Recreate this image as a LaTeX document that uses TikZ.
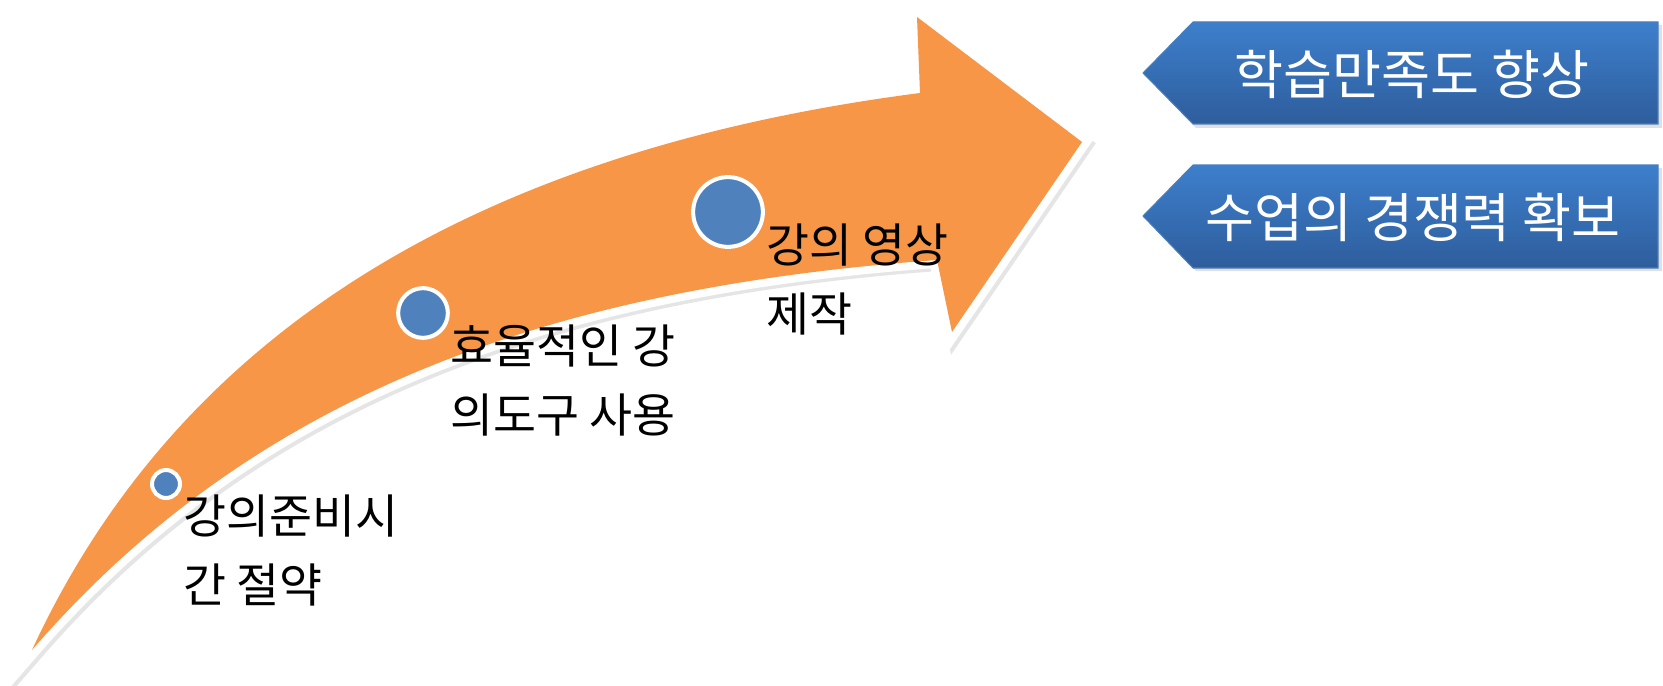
\documentclass[tikz,border=0pt]{standalone}
\usepackage{fontspec}
\newfontfamily\kor{Noto Sans CJK KR}
\usetikzlibrary{calc,positioning}
\definecolor{arroworange}{HTML}{F79646}
\definecolor{dotblue}{HTML}{4F81BD}
\definecolor{boxtop}{HTML}{3D7FCC}
\definecolor{boxbot}{HTML}{2E5D9C}
\definecolor{boxedge}{HTML}{4A7EBB}

\begin{document}
\begin{tikzpicture}[x=0.02cm, y=-0.02cm,
    dot/.style={circle, draw=white, line width=2.3pt, fill=dotblue, inner sep=0pt},
    lbl/.style={anchor=north west, inner sep=0pt, align=left, text=black,
        font=\kor\fontsize{26.6}{39.5}\selectfont},
    goalbox/.style={draw=boxedge, line width=0.6pt, top color=boxtop, bottom color=boxbot},
    goaltxt/.style={anchor=base, inner sep=0pt, text=white,
        font=\kor\fontsize{30.3}{34}\selectfont}]
    \useasboundingbox (0,0) rectangle (1663,686);

    %% Big curved arrow
    \def\bigarrow{(32,650) .. controls (180,330) and (480,150) .. (920,93)
        -- (917,17) -- (1082,142) -- (952,332) -- (937,260)
        .. controls (520,290) and (240,410) .. (32,650) -- cycle}
    \path[fill=black, draw=black, opacity=0.10, line width=9pt, line join=miter,
        shift={(3,3)}] \bigarrow;
    \path[fill=white, draw=white, line width=9pt, line join=miter] \bigarrow;
    \path[fill=arroworange] \bigarrow;

    %% Steps on the arrow
    \node[dot, minimum size=15.9pt] (d1) at (166,484) {};
    \node[dot, minimum size=28.3pt] (d2) at (423,313) {};
    \node[dot, minimum size=39.7pt] (d3) at (728,212) {};

    \node[lbl] (t1) at (183,494) {강의준비시\\간 절약};
    \node[lbl] (t2) at (450,324) {효율적인 강\\의도구 사용};
    \node[lbl] (t3) at (766,223) {강의 영상\\제작};

    %% Goals
    \path[fill=black, opacity=0.12] (1146,76) -- (1196,25) -- (1662,25) -- (1662,128) -- (1196,128) -- cycle;
    \path[goalbox] (1143,73) -- (1193,22) -- (1658,22) -- (1658,124) -- (1193,124) -- cycle;
    \node[goaltxt] (g1) at (1412,94) {학습만족도 향상};

    \path[fill=black, opacity=0.12] (1146,219) -- (1196,168) -- (1662,168) -- (1662,271) -- (1196,271) -- cycle;
    \path[goalbox] (1143,216) -- (1193,165) -- (1658,165) -- (1658,268) -- (1193,268) -- cycle;
    \node[goaltxt] (g2) at (1413,237) {수업의 경쟁력 확보};
\end{tikzpicture}
\end{document}
